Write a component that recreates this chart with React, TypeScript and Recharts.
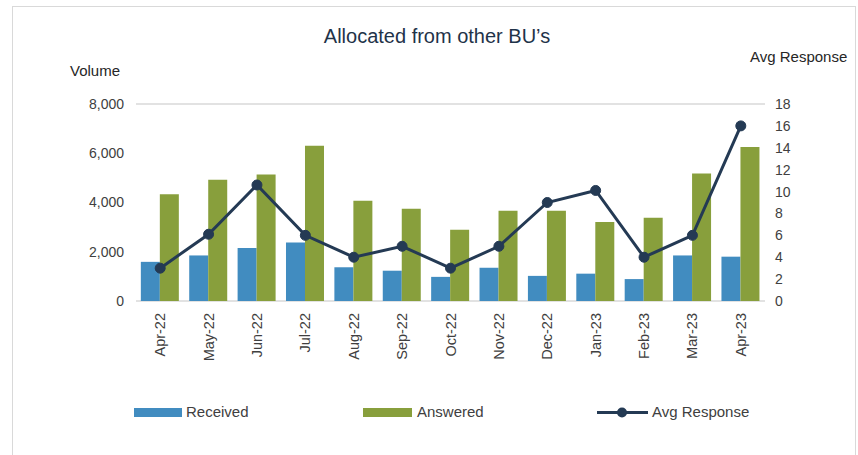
import React from 'react';
import { Bar, CartesianGrid, ComposedChart, Line, XAxis, YAxis } from 'recharts';

const months = ['Apr-22', 'May-22', 'Jun-22', 'Jul-22', 'Aug-22', 'Sep-22', 'Oct-22', 'Nov-22', 'Dec-22', 'Jan-23', 'Feb-23', 'Mar-23', 'Apr-23'];
const received = [1590, 1850, 2150, 2380, 1370, 1230, 980, 1350, 1020, 1110, 890, 1850, 1800];
const answered = [4340, 4920, 5140, 6300, 4070, 3750, 2890, 3670, 3670, 3210, 3380, 5180, 6250];
const avgResponse = [3, 6.1, 10.6, 6, 4, 5, 3, 5, 9, 10.1, 4, 6, 16];
const volumeTicks = [0, 2000, 4000, 6000, 8000];
const responseTicks = [0, 2, 4, 6, 8, 10, 12, 14, 16, 18];

const BLUE = '#418cc0';
const GREEN = '#889f3c';
const NAVY = '#243a54';
const FONT = '"Liberation Sans", Arial, sans-serif';

const data = months.map((m, i) => ({ m, received: received[i], answered: answered[i], avg: avgResponse[i] }));

const MonthTick = (props: any) => {
  const { x, y, payload } = props;
  return (
    <text x={x} y={y} transform={`rotate(-90, ${x}, ${y})`} dx={-4} dy={5} textAnchor="end" fill="#404040" fontSize={14.5} fontFamily={FONT}>
      {payload.value}
    </text>
  );
};

export default function App() {
  return (
    <div style={{ position: 'absolute', left: 0, top: 0, width: 858, height: 455, background: '#fff', fontFamily: FONT, overflow: 'hidden' }}>
      <div style={{ position: 'absolute', left: 12, top: 6, width: 842, height: 470, border: '1px solid #d9d9d9' }} />
      <div style={{ position: 'absolute', left: 0, width: 874, top: 25, textAlign: 'center', fontSize: 20, color: '#1f3349' }}>Allocated from other BU’s</div>
      <div style={{ position: 'absolute', left: 70, top: 62, fontSize: 15, color: '#262626' }}>Volume</div>
      <div style={{ position: 'absolute', left: 750, top: 48, fontSize: 15, color: '#262626' }}>Avg Response</div>
      <ComposedChart width={858} height={455} data={data} margin={{ top: 104, right: 53, bottom: 64, left: 76 }} barCategoryGap="10%" barGap={0}>
        <CartesianGrid vertical={false} stroke="#d9d9d9" strokeWidth={1.5} />
        <XAxis dataKey="m" height={90} tickLine={false} axisLine={false} interval={0} tick={<MonthTick />} />
        <YAxis yAxisId="vol" width={60} domain={[0, 8000]} ticks={volumeTicks} tickLine={false} axisLine={false} tickMargin={6}
          tickFormatter={(v: number) => v.toLocaleString('en-US')} tick={{ fill: '#404040', fontSize: 14, fontFamily: FONT }} />
        <YAxis yAxisId="resp" orientation="right" width={40} domain={[0, 18]} ticks={responseTicks} tickLine={false} axisLine={false} tickMargin={4}
          tick={{ fill: '#404040', fontSize: 14, fontFamily: FONT }} />
        <Bar yAxisId="vol" dataKey="received" fill={BLUE} isAnimationActive={false} />
        <Bar yAxisId="vol" dataKey="answered" fill={GREEN} isAnimationActive={false} />
        <Line yAxisId="resp" dataKey="avg" stroke={NAVY} strokeWidth={3} dot={{ r: 5, fill: NAVY, stroke: NAVY, strokeWidth: 1 }} isAnimationActive={false} />
      </ComposedChart>
      <div style={{ position: 'absolute', top: 403, left: 0, fontSize: 15, color: '#404040' }}>
        <div style={{ position: 'absolute', left: 134, top: 5, width: 48, height: 9, background: BLUE }} />
        <div style={{ position: 'absolute', left: 186, top: 0, whiteSpace: 'nowrap' }}>Received</div>
        <div style={{ position: 'absolute', left: 363, top: 5, width: 49, height: 9, background: GREEN }} />
        <div style={{ position: 'absolute', left: 417, top: 0, whiteSpace: 'nowrap' }}>Answered</div>
        <svg style={{ position: 'absolute', left: 596, top: 1 }} width={54} height={18}>
          <line x1={1} y1={8.5} x2={52} y2={8.5} stroke={NAVY} strokeWidth={3} />
          <circle cx={26} cy={8.5} r={5} fill={NAVY} />
        </svg>
        <div style={{ position: 'absolute', left: 652, top: 0, whiteSpace: 'nowrap' }}>Avg Response</div>
      </div>
    </div>
  );
}
